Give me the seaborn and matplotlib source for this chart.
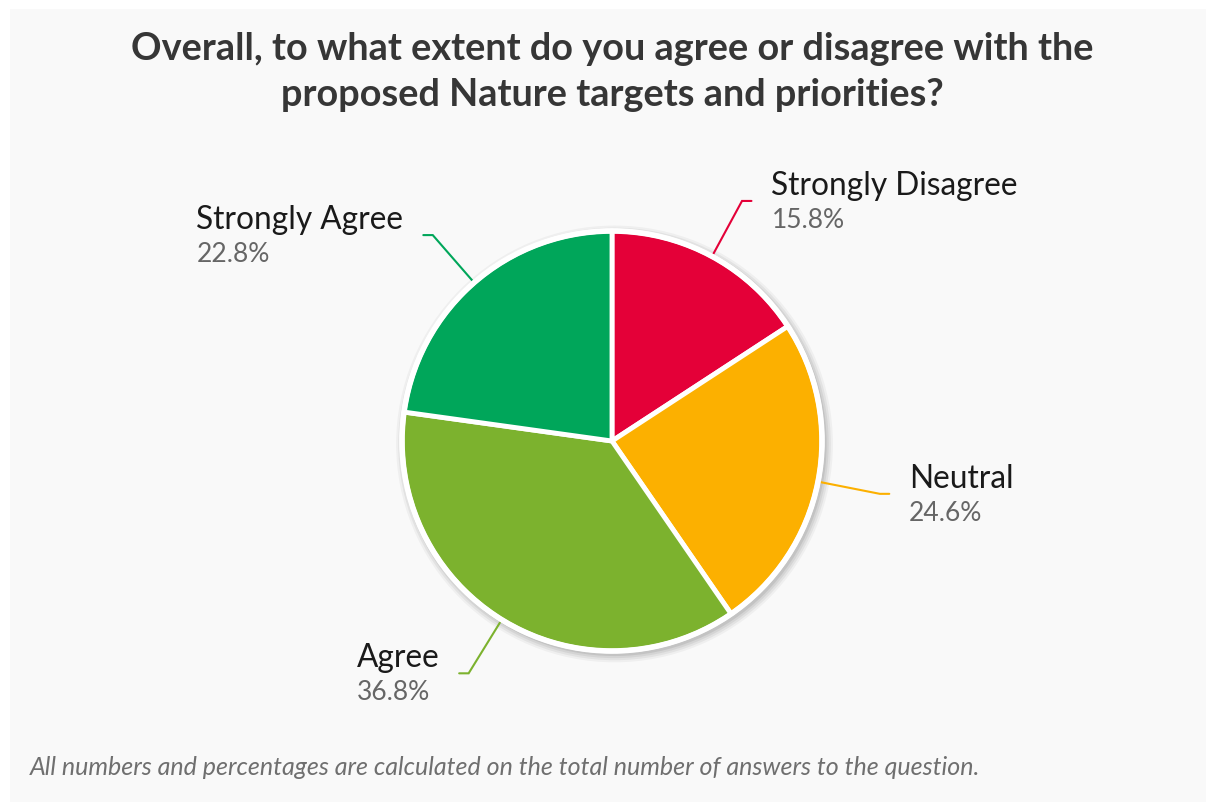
import matplotlib
matplotlib.use("Agg")
import matplotlib.pyplot as plt
import seaborn as sns
import numpy as np
from matplotlib.patches import Rectangle, Circle

categories = ["Strongly Disagree", "Neutral", "Agree", "Strongly Agree"]
values = [15.8, 24.6, 36.8, 22.8]
pct_labels = ["15.8%", "24.6%", "36.8%", "22.8%"]
colors = ["#e40038", "#fcb000", "#7cb22e", "#00a65a"]

title = "Overall, to what extent do you agree or disagree with the\nproposed Nature targets and priorities?"
footnote = "All numbers and percentages are calculated on the total number of answers to the question."

sns.set_theme(style="white")
plt.rcParams['font.family'] = ['Lato', 'DejaVu Sans']

W, H = 1206, 803
fig = plt.figure(figsize=(W / 100, H / 100), dpi=100)
fig.patch.set_facecolor("white")
fig.patches.append(Rectangle((10 / W, 0), 1 - 10 / W, 1 - 10 / H, transform=fig.transFigure,
                             facecolor="#f9f9f9", edgecolor="none", zorder=-5))

cx, cy, r = 612, 442, 210
ax = fig.add_axes([(cx - r) / W, (H - cy - r) / H, 2 * r / W, 2 * r / H])
ax.set_zorder(2)

wedges, _ = ax.pie(values, colors=colors, startangle=90, counterclock=False, radius=1.0,
                   wedgeprops=dict(edgecolor="white", linewidth=3.5, joinstyle="round"))
ax.set_xlim(-1, 1)
ax.set_ylim(-1, 1)
ax.set_aspect("equal")
ax.axis("off")
for w in wedges:
    w.set_zorder(2)
    w.set_clip_on(False)

# soft shadow
for i, a in enumerate([0.04, 0.05, 0.06, 0.08]):
    ax.add_patch(Circle((0.012, -0.014), 1.0 + 0.01 * (4 - i), facecolor="#000000", alpha=a,
                        edgecolor="none", zorder=0, clip_on=False))
# outer white ring
ax.add_patch(Circle((0, 0), 1.0, facecolor="none", edgecolor="white", linewidth=4, zorder=3, clip_on=False))

fig.canvas.draw()
renderer = fig.canvas.get_renderer()

for w, cat, pct, col in zip(wedges, categories, pct_labels, colors):
    ang = np.deg2rad((w.theta1 + w.theta2) / 2)
    x0, y0 = np.cos(ang), np.sin(ang)
    x1, y1 = 1.3 * x0, 1.3 * y0
    side = 1 if x0 >= 0 else -1
    x2 = x1 + side * 0.045
    ax.plot([x0, x1, x2], [y0, y1, y1], color=col, lw=1.5, zorder=1, clip_on=False,
            solid_joinstyle="miter")
    tx = x2 + side * 0.095
    lab = ax.text(tx, y1 + 0.033, cat, fontsize=22.8, color="#1a1a1a", va="baseline",
                  ha="left" if side > 0 else "right", clip_on=False)
    if side > 0:
        px = tx
    else:
        bb = lab.get_window_extent(renderer=renderer)
        px = ax.transData.inverted().transform((bb.x0, bb.y0))[0]
    ax.text(px, y1 - 0.124, pct, fontsize=19, color="#666666", va="baseline", ha="left", clip_on=False)

fig.text(612 / W, 1 - 72 / H, title, ha="center", va="center", fontsize=27.3, fontweight="bold",
         color="#363636", linespacing=1.42)
fig.text(30 / W, 1 - 768 / H, footnote, ha="left", va="center", fontsize=18, style="italic",
         color="#6f6f6f")

fig.savefig("out.png", dpi=100, facecolor=fig.get_facecolor())
